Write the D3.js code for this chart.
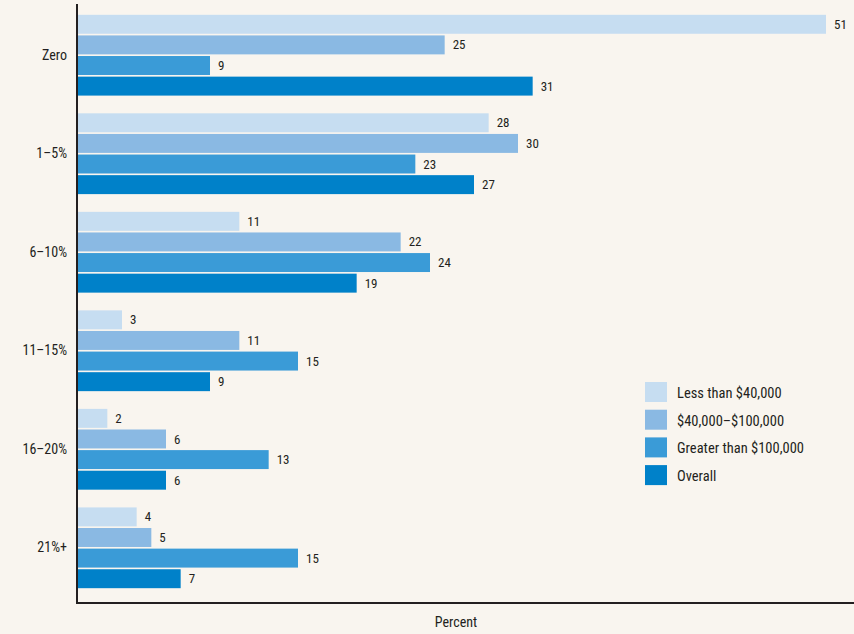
<!DOCTYPE html>
<html><head><meta charset="utf-8">
<script src="https://cdn.jsdelivr.net/npm/d3@7"></script>
<style>
html,body{margin:0;padding:0;background:#f9f5ef;}
svg{display:block;}
text{font-family:"Liberation Sans Narrow","Roboto Condensed","DejaVu Sans Condensed",Arial,sans-serif;fill:#231f20;font-weight:400;}
</style></head>
<body>
<svg id="chart" width="854" height="634"></svg>
<script>
const categories = ["Zero", "1–5%", "6–10%", "11–15%", "16–20%", "21%+"];
const seriesNames = ["Less than $40,000", "$40,000–$100,000", "Greater than $100,000", "Overall"];
const lessThan40k = [51, 28, 11, 3, 2, 4];
const from40to100k = [25, 30, 22, 11, 6, 5];
const greaterThan100k = [9, 23, 24, 15, 13, 15];
const overall = [31, 27, 19, 9, 6, 7];
const colors = ["#c6ddf1", "#8ab9e3", "#3a9bd7", "#0081c9"];
const axisTitle = "Percent";

const seriesValues = [lessThan40k, from40to100k, greaterThan100k, overall];
const svg = d3.select("#chart");
svg.append("rect").attr("width", 854).attr("height", 634).attr("fill", "#f9f5ef");

const x0 = 78;
const x = d3.scaleLinear().domain([0, 51]).range([x0, 826]);
const y = d3.scaleBand().domain(categories).range([2, 601]).paddingInner(0.18).paddingOuter(0.13);
const yi = d3.scaleBand().domain(d3.range(4)).range([0, y.bandwidth()]).paddingInner(0.08);

const rows = [];
categories.forEach((c, ci) => seriesValues.forEach((arr, si) => rows.push({c, si, v: arr[ci]})));

svg.append("g").selectAll("rect").data(rows).join("rect")
  .attr("x", x(0))
  .attr("y", d => y(d.c) + yi(d.si))
  .attr("width", d => x(d.v) - x(0))
  .attr("height", yi.bandwidth())
  .attr("fill", d => colors[d.si]);

svg.append("g").selectAll("text").data(rows).join("text")
  .attr("x", d => x(d.v) + 8)
  .attr("y", d => y(d.c) + yi(d.si) + yi.bandwidth() / 2)
  .attr("dy", "0.35em")
  .attr("font-size", 13)
  .text(d => d.v);

// category labels
const yAxis = d3.axisLeft(y).tickSize(0).tickPadding(10);
const ga = svg.append("g").attr("transform", `translate(${x0 - 1},0)`).call(yAxis);
ga.select(".domain").remove();
ga.selectAll("text").attr("font-size", 14).attr("font-family", null).attr("fill", "#231f20");

// axes lines
svg.append("line").attr("x1", 77).attr("x2", 77).attr("y1", 4).attr("y2", 604)
  .attr("stroke", "#231f20").attr("stroke-width", 2);
svg.append("line").attr("x1", 76).attr("x2", 854).attr("y1", 603).attr("y2", 603)
  .attr("stroke", "#231f20").attr("stroke-width", 2);

svg.append("text").attr("x", 456).attr("y", 627).attr("text-anchor", "middle")
  .attr("font-size", 14).text(axisTitle);

// legend
const lg = svg.append("g").attr("transform", "translate(645,382)");
const li = lg.selectAll("g").data(seriesNames).join("g")
  .attr("transform", (d, i) => `translate(0,${i * 27.7})`);
li.append("rect").attr("width", 22).attr("height", 20).attr("fill", (d, i) => colors[i]);
li.append("text").attr("x", 32).attr("y", 11).attr("dy", "0.35em").attr("font-size", 14.5).text(d => d);
</script>
</body></html>
